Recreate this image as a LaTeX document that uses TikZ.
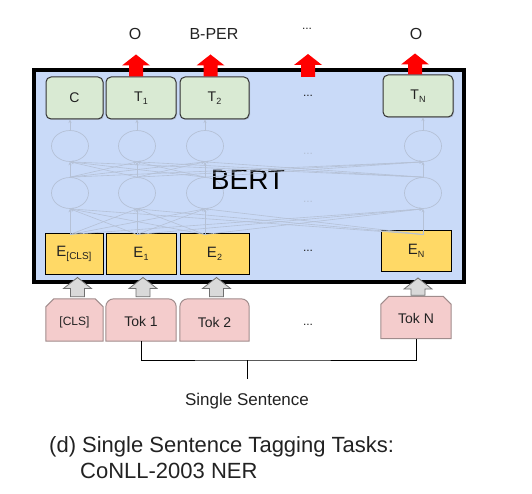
\documentclass[tikz,border=0pt]{standalone}
\usepackage{fontspec}
\setmainfont{Liberation Sans}
\usetikzlibrary{arrows.meta,shadows,shapes.geometric,calc}
\definecolor{bertblue}{HTML}{C9DAF8}
\definecolor{tgreen}{HTML}{D9EAD3}
\definecolor{eyellow}{HTML}{FFD966}
\definecolor{tokpink}{HTML}{F4CCCC}
\definecolor{tokedge}{HTML}{A08C8C}
\definecolor{netgray}{HTML}{B5C1D6}
\definecolor{blockgray}{HTML}{D9D9D9}
\definecolor{blockedge}{HTML}{707070}
\definecolor{txt}{HTML}{222222}
\newcommand\myblockup[3]{%
  \fill[#3] let \p1=#1, \p2=#2 in
    (\x1,\y2) -- (\x1+14pt,\y2-11pt) -- (\x1+7pt,\y2-11pt) -- (\x1+7pt,\y1)
    -- (\x1-7pt,\y1) -- (\x1-7pt,\y2-11pt) -- (\x1-14pt,\y2-11pt) -- cycle;}
\newcommand\mysub[1]{\raisebox{-3pt}{\fontsize{9}{9}\selectfont #1}}
\begin{document}
\begin{tikzpicture}[x=1pt,y=-1pt,
  bertbox/.style={draw=black,line width=4pt,fill=bertblue,minimum width=430pt,minimum height=212pt,inner sep=0pt},
  tbox/.style={draw=black!80,line width=1pt,fill=tgreen,rounded corners=5pt,minimum height=42pt,inner sep=0pt,
    font=\fontsize{14}{14}\selectfont,text=txt,drop shadow={shadow xshift=1pt,shadow yshift=-1pt,opacity=0.35}},
  ebox/.style={draw=black,line width=1pt,fill=eyellow,minimum height=41pt,inner sep=0pt,font=\fontsize{15}{15}\selectfont,text=txt},
  tokbox/.style={inner sep=0pt,minimum height=42pt,font=\fontsize{14}{14}\selectfont,text=txt},
  tokshape/.style={draw=tokedge,line width=1pt,fill=tokpink},
  neuron/.style={ellipse,draw=netgray,line width=0.7pt,minimum width=37pt,minimum height=31pt,inner sep=0pt},
  netline/.style={draw=netgray,line width=0.6pt,-{Stealth[length=3.5pt,width=3pt]}},
  outlabel/.style={font=\fontsize{16}{16}\selectfont,anchor=base,text=txt},
  dots/.style={font=\fontsize{12}{12}\selectfont,text=txt},
  faintdots/.style={font=\fontsize{12}{12}\selectfont,text=netgray},
  redarrow/.style={red},
  grayblock/.style={fill=blockgray,draw=blockedge,line width=0.8pt}
]
\useasboundingbox (0,0) rectangle (532,494);

% BERT box
\node[bertbox] (bert) at (249,176) {};

% neurons
\node[neuron] (l1) at (70,193) {};
\node[neuron] (l2) at (137,193) {};
\node[neuron] (l3) at (205,193) {};
\node[neuron] (l4) at (423,193) {};
\node[neuron] (u1) at (70,146) {};
\node[neuron] (u2) at (137,146) {};
\node[neuron] (u3) at (205,146) {};
\node[neuron] (u4) at (423,146) {};
\node[faintdots] (fd1) at (308,154) {...};
\node[faintdots] (fd2) at (308,202) {...};

% boxes
\node[tbox,minimum width=57pt] (C) at (74.5,98) {C};
\node[tbox,minimum width=70pt] (T1) at (141,98) {T\mysub{1}};
\node[tbox,minimum width=69pt] (T2) at (214.5,98) {T\mysub{2}};
\node[tbox,minimum width=70pt] (TN) at (418,96) {T\mysub{N}};
\node[dots] (tdots) at (308,96) {...};

\node[ebox,minimum width=58pt] (E0) at (74,253.5) {E\raisebox{-3pt}{\fontsize{10}{10}\selectfont [CLS]}};
\node[ebox,minimum width=70pt] (E1) at (141,253.5) {E\mysub{1}};
\node[ebox,minimum width=69pt] (E2) at (214.5,253.5) {E\mysub{2}};
\node[ebox,minimum width=70pt] (EN) at (416,251) {E\mysub{N}};
\node[dots] (edots) at (308,251) {...};

% BERT label
\node[font=\fontsize{28}{28}\selectfont,text=black] (bertlabel) at (248,180) {BERT};

% network connections
\foreach \i in {1,2,3,4}{
  \coordinate (b\i) at (l\i |- E1.north);
}
\foreach \i in {1,2,3,4}{
  \foreach \j in {1,2,3,4}{
    \draw[netline] ([yshift=-2pt]b\j) -- (l\i.south);
    \draw[netline] (l\j.north) -- (u\i.south);
  }
}
\draw[netline] (u1.north) -- (u1 |- C.south);
\draw[netline] (u2.north) -- (u2 |- T1.south);
\draw[netline] (u3.north) -- (u3 |- T2.south);
\draw[netline] (u4.north) -- (u4 |- TN.south);

% token boxes
\node[tokbox,minimum width=57pt] (tok0) at (74.5,320) {};
\node[tokbox,minimum width=70pt] (tok1) at (141,320) {};
\node[tokbox,minimum width=69pt] (tok2) at (214.5,320) {};
\node[tokbox,minimum width=70pt] (tokN) at (416,317.5) {};
\path[tokshape] (tok0.south west) -- ([yshift=-8pt]tok0.north west) -- ([xshift=8pt]tok0.north west)
  -- ([xshift=-8pt]tok0.north east) -- ([yshift=-8pt]tok0.north east) -- (tok0.south east) -- cycle;
\path[tokshape] (tok1.south west) [rounded corners=8pt] -- (tok1.north west) -- (tok1.north east) [sharp corners] -- (tok1.south east) -- cycle;
\path[tokshape] (tok2.south west) [rounded corners=8pt] -- (tok2.north west) -- (tok2.north east) [sharp corners] -- (tok2.south east) -- cycle;
\path[tokshape] (tokN.south west) -- ([yshift=-8pt]tokN.north west) -- ([xshift=8pt]tokN.north west)
  -- ([xshift=-8pt]tokN.north east) -- ([yshift=-8pt]tokN.north east) -- (tokN.south east) -- cycle;
\node[font=\fontsize{12}{12}\selectfont,text=txt] at ([yshift=-2pt]tok0.center) {[CLS]};
\node[font=\fontsize{14}{14}\selectfont,text=txt] at ([yshift=-1pt]tok1.center) {Tok 1};
\node[font=\fontsize{14}{14}\selectfont,text=txt] at ([yshift=-2pt]tok2.center) {Tok 2};
\node[font=\fontsize{14}{14}\selectfont,text=txt] at ([yshift=-1pt]tokN.center) {Tok N};
\node[dots] (tokdots) at (308,325) {...};

% gray block arrows Tok -> E
\myblockup{([xshift=3pt,yshift=2pt]tok0.north)}{([xshift=3pt,yshift=-3pt]E0.south)}{grayblock}
\myblockup{([xshift=2pt,yshift=2pt]tok1.north)}{([xshift=2pt,yshift=-3pt]E1.south)}{grayblock}
\myblockup{([xshift=2pt,yshift=2pt]tok2.north)}{([xshift=2pt,yshift=-3pt]E2.south)}{grayblock}
\myblockup{([xshift=2pt,yshift=1pt]tokN.north)}{([xshift=2pt,yshift=-6pt]EN.south)}{grayblock}

% red output arrows
\coordinate (dotsbase) at (308,77);
\myblockup{([xshift=-5pt]T1.north)}{([xshift=-5pt,yshift=22pt]T1.north)}{redarrow}
\myblockup{([xshift=-4pt]T2.north)}{([xshift=-4pt,yshift=22pt]T2.north)}{redarrow}
\myblockup{(dotsbase)}{([yshift=23pt]dotsbase)}{redarrow}
\myblockup{([xshift=-3pt]TN.north)}{([xshift=-3pt,yshift=21pt]TN.north)}{redarrow}

% output labels
\node[outlabel] (o1) at (135,40) {O};
\node[outlabel] (o2) at (214,40) {B-PER};
\node[dots] (o3) at (307,29) {...};
\node[outlabel] (o4) at (416,40) {O};

% sentence bracket
\coordinate (mid) at (247,360);
\coordinate (stemend) at (247,379);
\draw[line width=0.9pt] (tok1.south) |- (mid) -| (tokN.south);
\draw[line width=0.9pt] (mid) -- (stemend);
\node[font=\fontsize{17}{17}\selectfont,anchor=base,text=txt] (sent) at (247,405) {Single Sentence};

% caption
\node[font=\fontsize{22}{22}\selectfont,anchor=base west,inner sep=0pt,text=txt] (cap1) at (49,452) {(d) Single Sentence Tagging Tasks:};
\node[font=\fontsize{22}{22}\selectfont,anchor=base west,inner sep=0pt,text=txt] (cap2) at (80,478) {CoNLL-2003 NER};
\end{tikzpicture}
\end{document}
